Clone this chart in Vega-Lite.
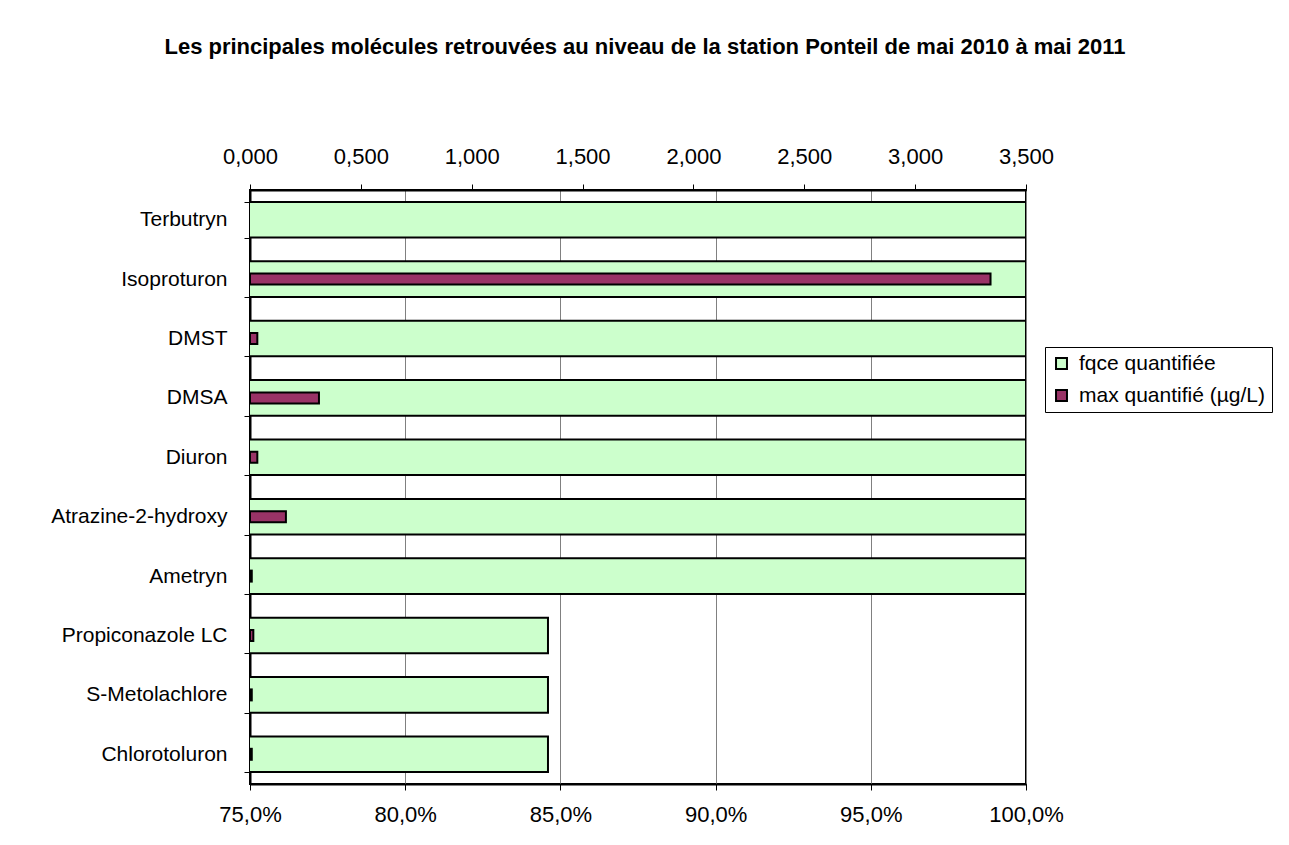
{
  "$schema": "https://vega.github.io/schema/vega-lite/v6.json",
  "autosize": {"type": "none"},
  "width": 776,
  "height": 594,
  "padding": {"left": 250, "top": 190, "right": 263, "bottom": 61},
  "background": "white",
  "title": {
    "text": "Les principales molécules retrouvées au niveau de la station Ponteil de mai 2010 à mai 2011",
    "font": "Liberation Sans",
    "fontSize": 22,
    "fontWeight": "bold",
    "color": "black",
    "anchor": "middle",
    "frame": "group",
    "dx": 7,
    "offset": 86
  },
  "config": {
    "font": "Liberation Sans",
    "view": {"stroke": "black", "strokeWidth": 2},
    "axis": {
      "labelFont": "Liberation Sans",
      "labelFontSize": 22,
      "labelColor": "black",
      "labelLimit": 0,
      "domainColor": "black",
      "domainWidth": 2,
      "tickColor": "black",
      "tickWidth": 1,
      "tickSize": 6,
      "title": null
    },
    "legend": {
      "labelFont": "Liberation Sans",
      "labelFontSize": 21,
      "labelColor": "black",
      "labelLimit": 0
    }
  },
  "data": {
    "values": [
      {"mol": "Terbutryn", "fqce": 1.0, "max": null},
      {"mol": "Isoproturon", "fqce": 1.0, "max": 3.34},
      {"mol": "DMST", "fqce": 1.0, "max": 0.033},
      {"mol": "DMSA", "fqce": 1.0, "max": 0.311},
      {"mol": "Diuron", "fqce": 1.0, "max": 0.033},
      {"mol": "Atrazine-2-hydroxy", "fqce": 1.0, "max": 0.162},
      {"mol": "Ametryn", "fqce": 1.0, "max": 0.008},
      {"mol": "Propiconazole LC", "fqce": 0.846, "max": 0.015},
      {"mol": "S-Metolachlore", "fqce": 0.846, "max": 0.008},
      {"mol": "Chlorotoluron", "fqce": 0.846, "max": 0.008}
    ]
  },
  "transform": [
    {"fold": ["fqce", "max"], "as": ["serie", "val"]}
  ],
  "encoding": {
    "y": {
      "field": "mol",
      "type": "nominal",
      "sort": ["Terbutryn", "Isoproturon", "DMST", "DMSA", "Diuron", "Atrazine-2-hydroxy", "Ametryn", "Propiconazole LC", "S-Metolachlore", "Chlorotoluron"],
      "scale": {"paddingInner": 0.4, "paddingOuter": 0.2},
      "axis": {
        "tickBand": "extent",
        "labelPadding": 17,
        "labelFontSize": 21,
        "tickSize": 6,
        "grid": false
      }
    },
    "fill": {
      "field": "serie",
      "type": "nominal",
      "scale": {"domain": ["fqce", "max"], "range": ["#CCFFCC", "#993366"]},
      "legend": {
        "title": null,
        "labelExpr": "datum.label == 'fqce' ? 'fqce quantifiée' : 'max quantifié (µg/L)'",
        "orient": "none",
        "legendX": 795,
        "legendY": 157,
        "strokeColor": "black",
        "padding": 6,
        "symbolType": "square",
        "symbolSize": 120,
        "symbolStrokeColor": "black",
        "symbolStrokeWidth": 2,
        "rowPadding": 10,
        "labelOffset": 7
      }
    }
  },
  "layer": [
    {
      "transform": [{"filter": "datum.serie == 'fqce'"}],
      "mark": {"type": "bar", "stroke": "black", "strokeWidth": 2, "clip": true},
      "encoding": {
        "x": {
          "field": "val",
          "type": "quantitative",
          "scale": {"domain": [0.75, 1], "nice": false, "zero": false},
          "axis": {
            "orient": "bottom",
            "values": [0.75, 0.8, 0.85, 0.9, 0.95, 1.0],
            "labelExpr": "replace(format(datum.value, '.1%'), '.', ',')",
            "grid": true,
            "gridColor": "#808080",
            "gridWidth": 1,
            "labelPadding": 14,
            "labelFlush": false
          }
        }
      }
    },
    {
      "transform": [{"filter": "datum.serie == 'max' && isValid(datum.val)"}],
      "mark": {"type": "bar", "stroke": "black", "strokeWidth": 2, "size": 11},
      "encoding": {
        "x": {
          "field": "val",
          "type": "quantitative",
          "scale": {"domain": [0, 3.5], "nice": false},
          "axis": {
            "orient": "top",
            "values": [0, 0.5, 1, 1.5, 2, 2.5, 3, 3.5],
            "labelExpr": "replace(format(datum.value, '.3f'), '.', ',')",
            "grid": false,
            "labelPadding": 16,
            "labelFlush": false
          }
        }
      }
    }
  ],
  "resolve": {"scale": {"x": "independent"}, "axis": {"x": "independent"}}
}
